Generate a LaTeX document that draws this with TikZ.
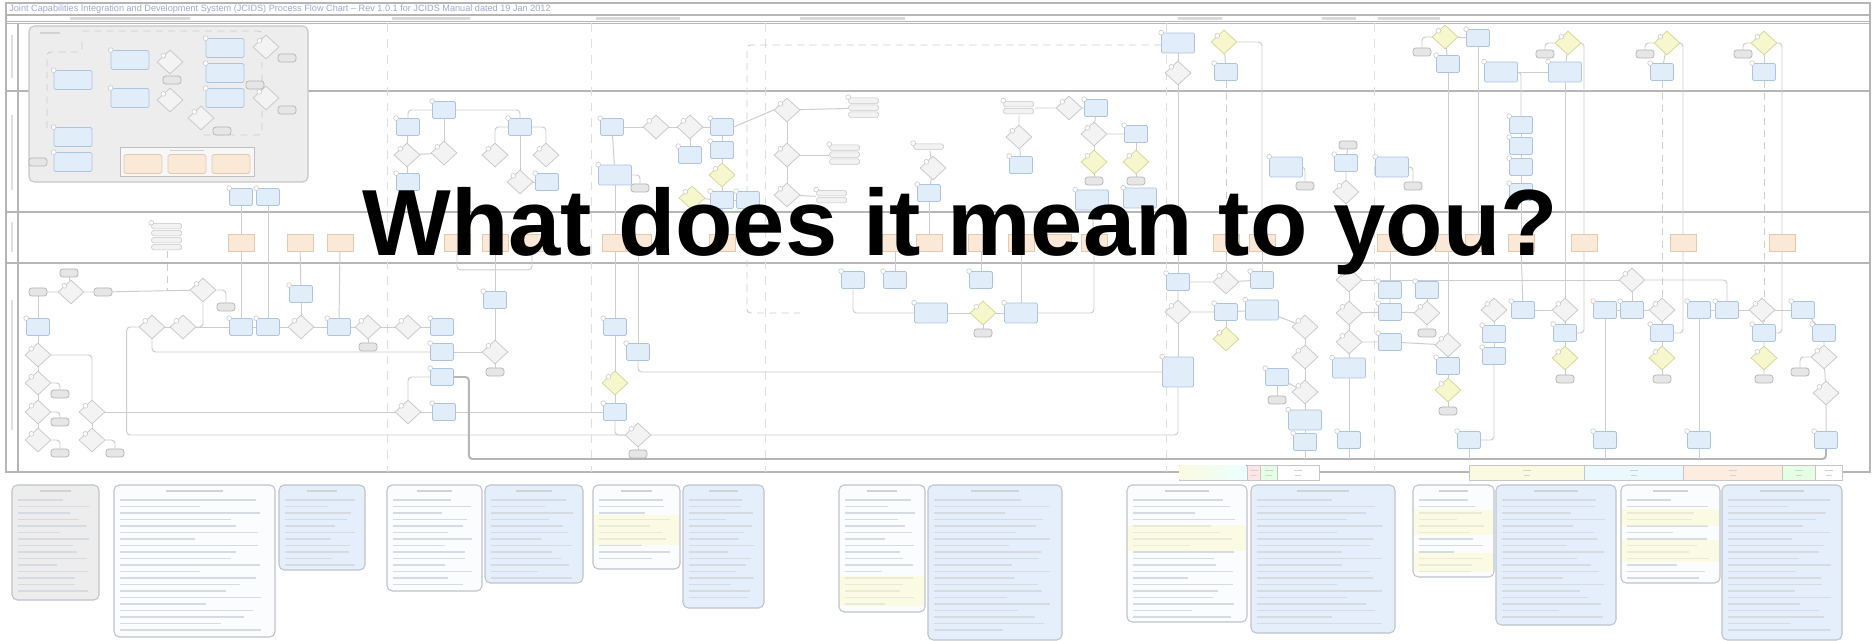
\documentclass[tikz,border=0pt]{standalone}
\usepackage{fontspec}
\setmainfont{Liberation Sans}
\usetikzlibrary{shapes.geometric,calc}
\pgfdeclarelayer{bg}
\pgfsetlayers{bg,main}

\definecolor{bbf}{RGB}{226,237,250}
\definecolor{bbd}{RGB}{172,196,224}
\definecolor{gdf}{RGB}{243,243,243}
\definecolor{gdd}{RGB}{198,198,198}
\definecolor{ydf}{RGB}{247,247,205}
\definecolor{ydd}{RGB}{212,212,150}
\definecolor{odf}{RGB}{251,233,216}
\definecolor{odd}{RGB}{230,200,172}
\definecolor{tmf}{RGB}{230,230,230}
\definecolor{tmd}{RGB}{180,180,180}
\definecolor{cnc}{RGB}{205,205,205}
\definecolor{lanec}{RGB}{182,182,182}
\definecolor{titc}{RGB}{160,168,208}
\definecolor{pwf}{RGB}{251,252,253}
\definecolor{pbf}{RGB}{228,239,251}
\definecolor{pgr}{RGB}{237,237,237}
\definecolor{pnd}{RGB}{190,195,202}
\definecolor{txc}{RGB}{214,219,226}
\definecolor{hly}{RGB}{252,249,205}

% flowchart symbols, placed in pixel coordinates
\newcommand\fcBox[3]{\node[bb] (#1) at (#2,#3) {};\draw[tag] (#1.north west) circle (2.4);}
\newcommand\fcWide[3]{\node[bb,minimum width=0.66cm,minimum height=0.4cm] (#1) at (#2,#3) {};\draw[tag] (#1.north west) circle (2.4);}
\newcommand\fcBig[3]{\node[bb,minimum width=0.76cm,minimum height=0.38cm] (#1) at (#2,#3) {};\draw[tag] (#1.north west) circle (2.4);}
\newcommand\fcTall[3]{\node[bb,minimum width=0.62cm,minimum height=0.6cm] (#1) at (#2,#3) {};\draw[tag] (#1.north west) circle (2.4);}
\newcommand\fcDia[3]{\node[gd] (#1) at (#2,#3) {};\draw[tag] (#1.north west) circle (2.4);}
\newcommand\fcYel[3]{\node[yd] (#1) at (#2,#3) {};\draw[tag] (#1.north west) circle (2.4);}
\newcommand\fcTerm[3]{\node[tm] (#1) at (#2,#3) {};}
\newcommand\fcDoc[3]{\node[dc] (#1) at (#2,#3) {};}
\newcommand\fcBars[4]{\node[inner sep=0pt,minimum width=0.62cm,minimum height={#4*0.14cm}] (#1) at (#2,#3) {};
  \foreach \j in {1,...,#4}{\draw[barst] ($(#1.north west)+(0.5,{(\j-1)*7+0.75})$) rectangle ++(30,5.5);}
  \draw[tag] (#1.north west) circle (2.4);}
% note panels under the chart
\newcommand\fcPanel[5]{%
  \draw[panel,fill=#5] (#1,#2) rectangle (#3,#4);
  \draw[txl,draw=gray!35,line width=0.9pt] ({(#1+#3)/2-(#3-#1)*0.18},#2+6) -- ({(#1+#3)/2+(#3-#1)*0.18},#2+6);
  \pgfmathtruncatemacro\fcN{(#4-#2-20)/6.5}
  \foreach \k in {0,...,\fcN}{%
    \pgfmathsetmacro\fr{0.5+0.45*abs(sin(\k*71+#1))}
    \draw[txl] (#1+6,{#2+15+\k*6.5}) -- ++({(#3-#1-12)*\fr},0);}}
% colour key segments on the bottom rule
\newcommand\fcSeg[3]{%
  \draw[draw=gray!45,fill=#3,line width=0.5pt] (#1,465) rectangle (#2,480);
  \draw[draw=gray!35,line width=0.5pt] ({(#1+#2)/2-4},470) -- ++(8,0) ({(#1+#2)/2-3},475) -- ++(6,0);}

\begin{document}
\begin{tikzpicture}[x=0.02cm,y=-0.02cm,
  bb/.style={rectangle,rounded corners=0.8pt,draw=bbd,fill=bbf,line width=0.4pt,minimum width=0.46cm,minimum height=0.34cm,inner sep=0pt},
  gd/.style={diamond,draw=gdd,fill=gdf,line width=0.4pt,minimum width=0.52cm,minimum height=0.48cm,inner sep=0pt},
  yd/.style={gd,draw=ydd,fill=ydf},
  tm/.style={rectangle,rounded corners=1.6pt,draw=tmd,fill=tmf,line width=0.4pt,minimum width=0.36cm,minimum height=0.16cm,inner sep=0pt},
  dc/.style={rectangle,draw=odd,fill=odf,line width=0.4pt,minimum width=0.52cm,minimum height=0.34cm,inner sep=0pt},
  ob/.style={rectangle,rounded corners=1pt,draw=odd,fill=odf,line width=0.4pt,minimum width=0.76cm,minimum height=0.38cm,inner sep=0pt},
  tag/.style={draw=gray!45,fill=white,line width=0.3pt},
  cn/.style={draw=cnc,line width=0.55pt},
  cnT/.style={draw=lanec,line width=1.1pt},
  cnd/.style={draw=cnc,line width=0.55pt,dash pattern=on 4pt off 3pt},
  rc/.style={rounded corners=2pt},
  lane/.style={draw=lanec,line width=0.9pt},
  colsep/.style={draw=gray!25,line width=0.5pt,dash pattern=on 5pt off 4pt},
  barst/.style={draw=gray!45,fill=gray!10,rounded corners=1pt,line width=0.3pt},
  panel/.style={draw=pnd,rounded corners=3pt,line width=0.6pt},
  txl/.style={draw=txc,line width=0.6pt}]
\useasboundingbox (0,0) rectangle (1874,641);

% ---------- frame, lanes, column separators ----------
\begin{pgfonlayer}{bg}
\fill[white] (0,0) rectangle (1874,641);
\draw[lane] (6,3) rectangle (1870,472);
\draw[lane] (6,15) -- (1870,15);
\draw[draw=lanec,line width=0.5pt] (6,21) -- (1870,21);
\draw[lane] (6,23.5) -- (1870,23.5);
\draw[lane] (18,23.5) -- (18,472);
\foreach \yy in {91,212,263} \draw[lane] (6,\yy) -- (1870,\yy);
\foreach \xx in {387,591,765,1166,1374} \draw[colsep] (\xx,23.5) -- (\xx,472);
% lane titles (rotated, tiny)
\foreach \ya/\yb in {35/78,115/190,222/252,300/430} \draw[draw=gray!25,line width=0.9pt] (12,\ya) -- (12,\yb);
% column headings
\foreach \xa/\xb in {70/190,392/470,596/680,800/905,1178/1222,1322/1356,1378/1440}
  \draw[draw=gray!30,line width=1.2pt] (\xa,18.5) -- (\xb,18.5);
\end{pgfonlayer}

\node[anchor=west,inner sep=0pt,text=titc,font=\fontsize{5.2}{6}\selectfont] (title) at (9,9)
  {Joint Capabilities Integration and Development System (JCIDS) Process Flow Chart – Rev 1.0.1 for JCIDS Manual dated 19 Jan 2012};

% ---------- legend panel ----------
\draw[draw=gray!45,fill=pgr,rounded corners=3pt,line width=0.6pt] (29,26) rectangle (308,182);
\draw[draw=gray!35,line width=0.9pt] (40,33) -- (60,33);
\draw[cnd,rc] (82,31) -- (262,31) -- (262,135) -- (200,135);
\draw[cnd,rc] (82,42) -- (82,52) -- (47,52) -- (47,133);
\fcBig{L1}{73}{80}
\fcBig{L2}{130}{60}
\fcBig{L3}{130}{98}
\fcDia{L4}{170}{62}
\fcTerm{L5}{172}{80}
\fcDia{L6}{170}{100}
\fcBig{L7}{225}{48}
\fcBig{L8}{225}{73}
\fcBig{L9}{225}{98}
\fcDia{L10}{266}{47}
\fcTerm{L11}{287}{58}
\fcTerm{L12}{255}{85}
\fcDia{L13}{266}{98}
\fcTerm{L14}{287}{110}
\fcDia{L15}{201}{118}
\fcTerm{L16}{222}{131}
\fcBig{L17}{73}{137}
\fcBig{L18}{73}{162}
\fcTerm{L19}{38}{162}
\draw[draw=gray!50,fill=gray!6,line width=0.5pt] (120,147) rectangle (254,176);
\draw[draw=gray!35,line width=0.8pt] (170,150.5) -- (204,150.5);
\node[ob] (LG1) at (143,164) {};
\node[ob] (LG2) at (187,164) {};
\node[ob] (LG3) at (231,164) {};

% ---------- top lane ----------
\fcWide{R1}{1178}{43}
\fcDia{R2}{1178}{73}
\fcYel{R3}{1224}{42}
\fcBox{R4}{1226}{72}
\fcYel{R5}{1445}{37}
\fcTerm{R6}{1422}{52}
\fcBox{R7}{1478}{38}
\fcBox{R8}{1448}{64}
\fcWide{R9}{1501}{72}
\fcWide{R10}{1565}{72}
\fcYel{R11}{1568}{43}
\fcTerm{R12}{1545}{54}
\fcYel{R13}{1667}{43}
\fcTerm{R14}{1645}{54}
\fcBox{R15}{1662}{72}
\fcYel{R16}{1764}{43}
\fcTerm{R17}{1743}{54}
\fcBox{R18}{1764}{72}

% ---------- second lane ----------
\fcBox{A1}{444}{110}
\fcBox{A2}{408}{127}
\fcDia{A3}{407}{155}
\fcDia{A4}{444}{153}
\fcBox{A5}{408}{182}
\fcBox{A6}{520}{127}
\fcDia{A7}{495}{155}
\fcDia{A8}{546}{155}
\fcDia{A9}{520}{182}
\fcBox{A10}{547}{182}
\fcBox{A11}{612}{127}
\fcDia{A12}{656}{127}
\fcDia{A13}{690}{127}
\fcBox{A14}{722}{127}
\fcBox{A15}{722}{150}
\fcBox{A16}{690}{155}
\fcYel{A17}{722}{175}
\fcWide{A18}{615}{175}
\fcTerm{A19}{640}{188}
\fcYel{A20}{692}{198}
\fcBox{A21}{722}{200}
\fcBox{A22}{748}{200}
\fcBox{A23}{241}{197}
\fcBox{A24}{268}{197}

\fcDia{C1}{787}{110}
\fcBars{C2}{864}{108}{3}
\fcDia{C3}{787}{155}
\fcBars{C4}{845}{155}{3}
\fcDia{C5}{787}{195}
\fcBars{C6}{832}{197}{2}
\fcBars{C7}{929}{147}{1}
\fcDia{C8}{933}{168}
\fcBox{C9}{929}{193}
\fcBars{C10}{1019}{108}{2}
\fcDia{C11}{1069}{108}
\fcBox{C12}{1096}{108}
\fcDia{C13}{1094}{134}
\fcBox{C14}{1136}{134}
\fcYel{C15}{1094}{162}
\fcYel{C16}{1136}{162}
\fcTerm{C17}{1094}{181}
\fcTerm{C18}{1136}{181}
\fcWide{C19}{1092}{200}
\fcWide{C20}{1140}{198}
\fcDia{C21}{1019}{137}
\fcBox{C22}{1021}{165}

\fcWide{D1}{1286}{167}
\fcTerm{D2}{1305}{186}
\fcBox{D3}{1346}{163}
\fcTerm{D4}{1348}{145}
\fcDia{D5}{1346}{192}
\fcWide{D6}{1392}{167}
\fcTerm{D7}{1413}{186}
\fcBox{D8}{1521}{125}
\fcBox{D9}{1521}{146}
\fcBox{D10}{1521}{167}
\fcBox{D11}{1521}{192}

% ---------- third lane (documents) ----------
\fcBars{S}{167}{237}{4}
\fcDoc{O1}{241}{243}
\fcDoc{O2}{300}{243}
\fcDoc{O3}{340}{243}
\fcDoc{O4}{457}{243}
\fcDoc{O5}{495}{243}
\fcDoc{O6}{532}{243}
\fcDoc{O7}{615}{243}
\fcDoc{O8}{638}{243}
\fcDoc{O9}{722}{243}
\fcDoc{O10}{895}{243}
\fcDoc{O11}{929}{243}
\fcDoc{O12}{981}{243}
\fcDoc{O13}{1021}{243}
\fcDoc{O14}{1058}{243}
\fcDoc{O15}{1094}{243}
\fcDoc{O16}{1226}{243}
\fcDoc{O17}{1262}{243}
\fcDoc{O18}{1390}{243}
\fcDoc{O19}{1448}{243}
\fcDoc{O20}{1478}{243}
\fcDoc{O21}{1521}{243}
\fcDoc{O22}{1584}{243}
\fcDoc{O23}{1683}{243}
\fcDoc{O24}{1782}{243}

% ---------- bottom lane ----------
\fcTerm{E1}{69}{273}
\fcDia{E2}{71}{292}
\fcTerm{E3}{38}{292}
\fcTerm{E4}{103}{292}
\fcBox{E5}{38}{327}
\fcDia{E6}{38}{355}
\fcDia{E7}{38}{383}
\fcDia{E8}{38}{412}
\fcDia{E9}{38}{440}
\fcTerm{E10}{60}{394}
\fcTerm{E11}{60}{422}
\fcTerm{E12}{60}{453}
\fcDia{E13}{92}{412}
\fcDia{E14}{92}{440}
\fcTerm{E15}{115}{453}
\fcDia{E16}{203}{290}
\fcTerm{E17}{226}{307}

\fcDia{F1}{152}{327}
\fcDia{F2}{183}{327}
\fcBox{F3}{241}{327}
\fcBox{F4}{268}{327}
\fcDia{F5}{301}{327}
\fcBox{F6}{339}{327}
\fcDia{F7}{368}{327}
\fcTerm{F8}{368}{347}
\fcBox{F9}{301}{294}
\fcDia{F10}{408}{327}
\fcBox{F11}{442}{327}
\fcBox{F12}{442}{352}
\fcBox{F13}{495}{300}
\fcDia{F14}{495}{352}
\fcTerm{F15}{495}{372}
\fcBox{F16}{442}{377}
\fcDia{F17}{408}{412}
\fcBox{F18}{444}{412}

\fcBox{G1}{615}{327}
\fcBox{G2}{638}{352}
\fcYel{G3}{615}{383}
\fcBox{G4}{615}{412}
\fcDia{G5}{638}{435}
\fcTerm{G6}{638}{454}

\fcBox{H1}{853}{280}
\fcBox{H2}{895}{280}
\fcBox{H3}{981}{280}
\fcWide{H4}{931}{313}
\fcYel{H5}{983}{313}
\fcWide{H6}{1021}{313}
\fcTerm{H7}{983}{333}

\fcBox{K1}{1178}{282}
\fcDia{K2}{1226}{282}
\fcBox{K3}{1262}{280}
\fcDia{K4}{1178}{312}
\fcBox{K5}{1226}{312}
\fcWide{K6}{1262}{310}
\fcYel{K7}{1226}{339}
\fcTall{K8}{1178}{372}
\fcDia{K9}{1305}{327}
\fcDia{K10}{1305}{357}
\fcBox{K11}{1277}{377}
\fcDia{K12}{1305}{392}
\fcTerm{K13}{1277}{400}
\fcWide{K14}{1305}{420}
\fcBox{K15}{1305}{442}

\fcDia{M1}{1349}{280}
\fcDia{M2}{1349}{313}
\fcDia{M3}{1349}{342}
\fcWide{M4}{1349}{368}
\fcBox{M5}{1349}{440}
\fcBox{M6}{1390}{290}
\fcBox{M7}{1390}{312}
\fcBox{M8}{1390}{342}
\fcBox{M9}{1427}{290}
\fcDia{M10}{1427}{313}
\fcTerm{M11}{1427}{333}
\fcDia{M12}{1448}{345}
\fcBox{M13}{1448}{366}
\fcYel{M14}{1448}{390}
\fcTerm{M15}{1448}{411}

\fcDia{N1}{1494}{310}
\fcBox{N2}{1494}{334}
\fcBox{N3}{1494}{356}
\fcBox{N4}{1469}{440}
\fcBox{N5}{1523}{310}
\fcDia{N6}{1565}{310}
\fcBox{N7}{1565}{333}
\fcYel{N8}{1565}{358}
\fcTerm{N9}{1565}{379}
\fcDia{N10}{1632}{280}
\fcBox{N11}{1605}{310}
\fcBox{N12}{1632}{310}
\fcDia{N13}{1662}{310}
\fcBox{N14}{1662}{333}
\fcYel{N15}{1662}{358}
\fcTerm{N16}{1662}{379}
\fcBox{N17}{1605}{440}

\fcBox{P1}{1699}{310}
\fcBox{P2}{1727}{310}
\fcDia{P3}{1762}{310}
\fcBox{P4}{1764}{333}
\fcYel{P5}{1764}{358}
\fcTerm{P6}{1764}{379}
\fcBox{P7}{1803}{310}
\fcBox{P8}{1824}{333}
\fcDia{P9}{1824}{357}
\fcTerm{P10}{1800}{372}
\fcDia{P11}{1826}{393}
\fcBox{P12}{1826}{440}
\fcBox{P13}{1699}{440}

\coordinate (bus) at (0,459);
\coordinate (bus2) at (0,435);

% ---------- connectors ----------
\begin{pgfonlayer}{bg}
% legend
\draw[cn,rc] (L1.east) -- ++(8,0) |- (L2.west);
\draw[cn,rc] (L1.east) -- ++(8,0) |- (L3.west);
\draw[cn] (L2) -- (L4);
\draw[cn,rc] (L4.east) -- ++(10,0) |- (L7.west);
\draw[cn,rc] (L4.east) -- ++(10,0) |- (L8.west);
\draw[cn] (L4) -- (L5);
\draw[cn] (L3) -- (L6) -- (L9) -- (L13);
\draw[cn] (L7) -- (L10);
\draw[cn,rc] (L10.east) -| (L11.north);
\draw[cn,rc] (L8.east) -| (L12.north);
\draw[cn,rc] (L13.east) -| (L14.north);
\draw[cn,rc] (L15.east) -| (L16.north);
\draw[cn] (L1) -- (L17) -- (L18) -- (L19);
\draw[cn,rc] (L17.east) -| (L15.south);
% top lane
\draw[cn] (R1) -- (R2);
\draw[cn] (R3) -- (R4);
\draw[cn] (R5) -- (R7);
\draw[cn] (R5) -- (R8);
\draw[cn,rc] (R5.west) -| (R6.north);
\draw[cn,rc] (R11.west) -| (R12.north);
\draw[cn,rc] (R13.west) -| (R14.north);
\draw[cn,rc] (R16.west) -| (R17.north);
\draw[cn] (R9) -- (R10);
\draw[cn] (R11) -- (R10);
\draw[cn] (R13) -- (R15);
\draw[cn] (R16) -- (R18);
\draw[cn,rc] (R9) -| (D8);
\draw[cn] (D8) -- (D9) -- (D10) -- (D11) -- (O21);
\draw[cn] (R2) -- (K1);
\draw[cnd] (R4) -- (O16);
\draw[cn,rc] (R3.east) -| (O17.north);
\draw[cn] (R8) -- (O19);
\draw[cn] (R7) -- (O20);
\draw[cn,rc] (R11.east) -| (O22.north);
\draw[cn,rc] (R13.east) -| (O23.north);
\draw[cn,rc] (R16.east) -| (O24.north);
\draw[cn] (R10) -- (N6);
\draw[cnd] (R15) -- (N13);
\draw[cnd] (R18) -- (P4);
% second lane
\draw[cn,rc] (A1.east) -| (A6.north);
\draw[cn,rc] (A1.west) -| (A2.north);
\draw[cn] (A2) -- (A3) -- (A5);
\draw[cn] (A1) -- (A4);
\draw[cn] (A3) -- (A4);
\draw[cn] (A6) -- (A9) -- (A10);
\draw[cn,rc] (A7.north) |- (A6.west);
\draw[cn,rc] (A8.north) |- (A6.east);
\draw[cn] (A11) -- (A12) -- (A13) -- (A14) -- (A15) -- (A17) -- (A21) -- (A22);
\draw[cn] (A13) -- (A16);
\draw[cn] (A11) -- (A18);
\draw[cn,rc] (A18.east) -| (A19.north);
\draw[cn] (A20) -- (A21);
\draw[cn] (A14.east) -- (C1.west);
\draw[cn] (C1) -- (C2);
\draw[cn] (C1) -- (C3) -- (C5);
\draw[cn] (C3) -- (C4);
\draw[cn] (C5) -- (C6);
\draw[cn] (C7) -- (C8) -- (C9);
\draw[cn] (C10) -- (C11) -- (C12) -- (C13) -- (C14);
\draw[cn] (C13) -- (C15) -- (C17);
\draw[cn] (C14) -- (C16) -- (C18);
\draw[cn] (C10) -- (C21) -- (C22);
\draw[cn,rc] (D1.east) -| (D2.north);
\draw[cn] (D4) -- (D3) -- (D5);
\draw[cn,rc] (D6.east) -| (D7.north);
% down through the document lane
\draw[cn] (A23) -- (O1) -- (F3);
\draw[cn] (A24) -- (F4);
\draw[cn] (O2) -- (F9);
\draw[cn] (O3) -- (F6);
\draw[cn,rc] (O4.south) -- ++(0,18) -| (O6.south);
\draw[cn] (O5) -- (F13);
\draw[cn] (A18) -- (O7) -- (G1);
\draw[cn] (O8) -- (G2);
\draw[cn] (A21) -- (O9);
\draw[cn] (C9) -- (O11);
\draw[cn] (O10) -- (H2);
\draw[cn] (O12) -- (H3);
\draw[cn] (O13) -- (H6);
\draw[cn] (C19) -- (O15);
\draw[cnd] (S.south) -- (S.south |- E16.west);
\draw[cn] (O16) -- (K2);
\draw[cn] (O17) -- (K3);
\draw[cn] (O18) -- (M6);
\draw[cn] (O19) -- (M12);
\draw[cn] (O21) -- (N5);
\draw[cn,rc] (O22.south) |- (N7.east);
\draw[cn,rc] (O23.south) |- (N14.east);
\draw[cn,rc] (O24.south) |- (P4.east);
% bottom lane
\draw[cn] (E1) -- (E2);
\draw[cn] (E3) -- (E2) -- (E4) -- (E16);
\draw[cn] (E3) -- (E5) -- (E6) -- (E7) -- (E8) -- (E9);
\draw[cn,rc] (E7.east) -| (E10.north);
\draw[cn,rc] (E8.east) -| (E11.north);
\draw[cn,rc] (E9.east) -| (E12.north);
\draw[cn,rc] (E6.east) -| (E13.north);
\draw[cn] (E13) -- (E14);
\draw[cn,rc] (E14.east) -| (E15.north);
\draw[cn,rc] (E16.east) -| (E17.north);
\draw[cn,rc] (E16.south) |- (F2.east);
\draw[cn] (F1) -- (F2) -- (F3) -- (F4) -- (F5) -- (F6) -- (F7) -- (F10) -- (F11);
\draw[cn] (F7) -- (F8);
\draw[cn] (F9) -- (F5);
\draw[cn,rc] (F1.south) |- (F12.west);
\draw[cn] (F12) -- (F14) -- (F15);
\draw[cn] (F13) -- (F14);
\draw[cn,rc] (F16.west) -| (F17.north);
\draw[cn] (E13) -- (F17) -- (F18) -- (G4);
\draw[cn] (G1) -- (G3) -- (G4);
\draw[cn,rc] (G4.south) |- (G5.west);
\draw[cn] (G5) -- (G6);
\draw[cn,rc] (G2.south) |- (K8.west);
\draw[cn,rc] (F1.west) -- ++(-12,0) |- (K8.south |- bus2) -- (K8.south);
\draw[cnT,rc] (F16.east) -- ++(15,0) |- (P12.south |- bus) -- (P12.south);
\draw[cnd,rc] (1161,45) -- (747,45) -- (747,313) -- (800,313);
\draw[cn,rc] (H1.south) |- (H4.west);
\draw[cn] (H4) -- (H5) -- (H6);
\draw[cn] (H5) -- (H7);
\draw[cn,rc] (H6.east) -| (O15.south);
\draw[cn] (K1) -- (K2) -- (K3);
\draw[cn] (K1) -- (K4) -- (K5) -- (K6);
\draw[cn] (K5) -- (K7);
\draw[cn] (K4) -- (K8);
\draw[cn] (K9) -- (K10) -- (K12) -- (K14) -- (K15);
\draw[cn] (K11) -- (K13);
\draw[cn] (K12) -- (K11);
\draw[cn] (K6) -- (K9);
\draw[cn] (M1) -- (M2) -- (M3) -- (M4) -- (M5);
\draw[cn] (M2) -- (M7);
\draw[cn] (M6) -- (M7) -- (M10) -- (M11);
\draw[cn] (M9) -- (M10);
\draw[cn] (M3) -- (M8) -- (M12);
\draw[cn] (M12) -- (M13) -- (M14) -- (M15);
\draw[cn] (M1) -- (N10);
\draw[cn,rc] (N10.east) -| (P2.north);
\draw[cn] (N1) -- (N2) -- (N3);
\draw[cn,rc] (N3.south) |- (N4.east);
\draw[cn] (N5) -- (N6) -- (N7) -- (N8) -- (N9);
\draw[cn] (N11) -- (N12) -- (N13) -- (N14) -- (N15) -- (N16);
\draw[cn] (N10) -- (N12);
\draw[cn] (N11) -- (N17);
\draw[cn] (P1) -- (P2) -- (P3) -- (P7);
\draw[cn] (P3) -- (P4) -- (P5) -- (P6);
\draw[cn] (P7) -- (P8) -- (P9) -- (P11) -- (P12);
\draw[cn,rc] (P9.west) -| (P10.north);
\draw[cn] (P1) -- (P13);
\foreach \n in {M5,N4,N17,P13,K15} \draw[cn] (\n.south) -- (\n.south |- bus);
\end{pgfonlayer}

% ---------- colour key on the bottom rule ----------
\fcSeg{1179}{1247}{ydf!60}
\fill[left color=ydf!60,right color=cyan!8] (1179.5,465.5) rectangle (1246.5,479.5);
\fcSeg{1247}{1260}{red!10}
\fcSeg{1260}{1277}{green!10}
\fcSeg{1277}{1319}{white}
\fcSeg{1469}{1584}{ydf!60}
\fcSeg{1584}{1683}{cyan!8}
\fcSeg{1683}{1782}{odf!80}
\fcSeg{1782}{1815}{green!10}
\fcSeg{1815}{1842}{white}

% ---------- note panels ----------
\fcPanel{12}{485}{99}{600}{pgr}
\fcPanel{114}{485}{275}{637}{pwf}
\fcPanel{279}{485}{365}{570}{pbf}
\fcPanel{387}{485}{482}{591}{pwf}
\fcPanel{485}{485}{583}{583}{pbf}
\fcPanel{593}{485}{680}{569}{pwf}
\fcPanel{683}{485}{764}{608}{pbf}
\fcPanel{839}{485}{925}{612}{pwf}
\fcPanel{928}{485}{1062}{640}{pbf}
\fcPanel{1127}{485}{1247}{622}{pwf}
\fcPanel{1251}{485}{1395}{633}{pbf}
\fcPanel{1413}{485}{1494}{577}{pwf}
\fcPanel{1496}{485}{1616}{625}{pbf}
\fcPanel{1621}{485}{1720}{583}{pwf}
\fcPanel{1722}{485}{1842}{640}{pbf}
\begin{scope}[fill opacity=0.55]
\fill[hly] (594,515) rectangle (679,545);
\fill[hly] (840,576) rectangle (924,606);
\fill[hly] (1128,525) rectangle (1246,551);
\fill[hly] (1414,510) rectangle (1493,535);
\fill[hly] (1414,553) rectangle (1493,572);
\fill[hly] (1622,509) rectangle (1719,526);
\fill[hly] (1622,540) rectangle (1719,562);
\end{scope}

% ---------- headline ----------
\node[anchor=base west,inner sep=0pt,font=\fontsize{53.5}{60}\selectfont\bfseries] (headline) at (362,256) {What does it mean to you?};
\end{tikzpicture}
\end{document}
